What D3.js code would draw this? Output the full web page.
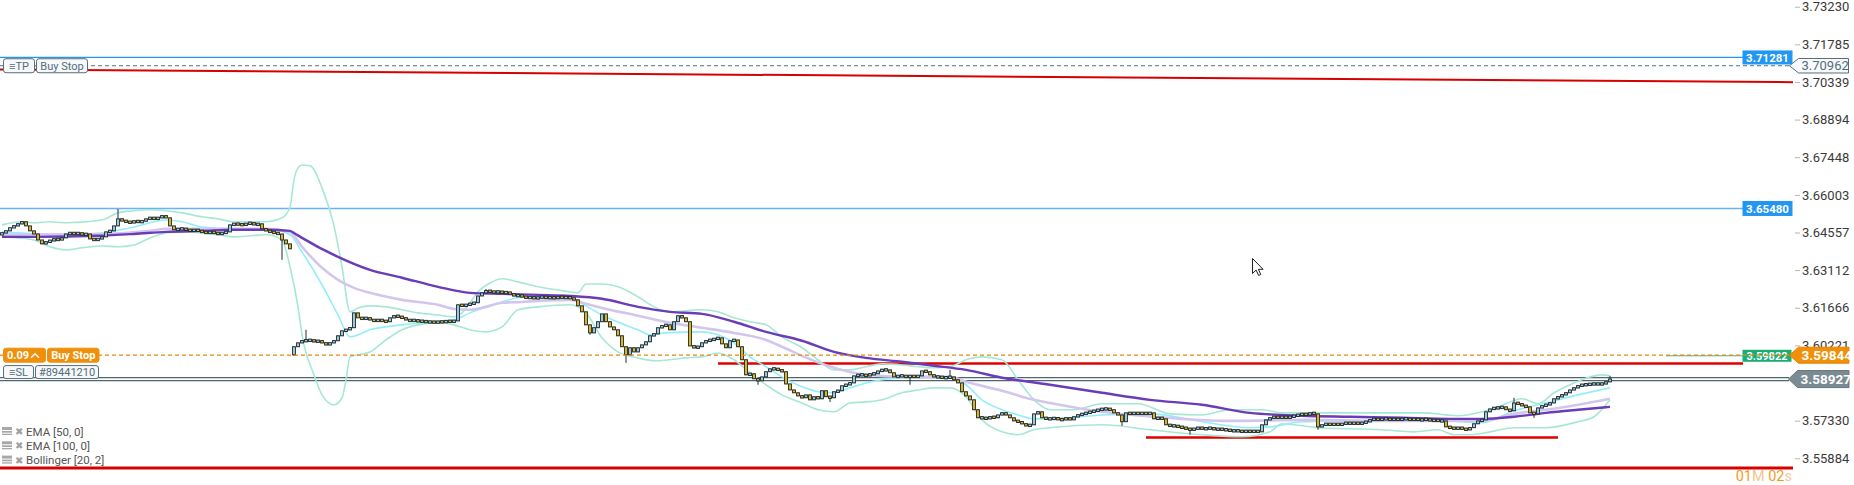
<!DOCTYPE html>
<html><head><meta charset="utf-8">
<script src="https://cdn.jsdelivr.net/npm/d3@7"></script>
<style>
html,body{margin:0;padding:0;background:#fff;overflow:hidden}
svg{display:block;font-family:Roboto,"Noto Sans",sans-serif}
</style></head><body>
<svg id="chart" width="1854" height="485"></svg>
<script>
// ---------------- DATA ----------------
// visible price-axis tick labels (the 3.58775 tick is hidden under the SL label in the original)
const yTickLabels = ["3.73230","3.71785","3.70339","3.68894","3.67448","3.66003","3.64557","3.63112","3.61666","3.60221","3.57330","3.55884"];

const firstOpen = 3.6447;
const closesBeforeGap = [
 3.6454,3.6462,3.6474,3.6481,3.6489,3.6497,3.6481,3.6462,3.6450,3.6427,
 3.6412,3.6420,3.6424,3.6431,3.6427,3.6435,3.6450,3.6454,3.6450,3.6454,
 3.6447,3.6450,3.6431,3.6427,3.6431,3.6439,3.6458,3.6462,3.6481,3.6508,
 3.6500,3.6497,3.6493,3.6500,3.6496,3.6499,3.6508,3.6512,3.6508,3.6512,
 3.6520,3.6512,3.6481,3.6466,3.6469,3.6470,3.6466,3.6462,3.6466,3.6462,
 3.6458,3.6454,3.6458,3.6454,3.6450,3.6454,3.6458,3.6485,3.6489,3.6487,
 3.6485,3.6489,3.6493,3.6485,3.6489,3.6470,3.6462,3.6458,3.6454,3.6450,
 3.6427,3.6412,3.6393];
const gapOpen = 3.5986;
const closesAfterGap = [
 3.6017,3.6032,3.6040,3.6040,3.6043,3.6036,3.6040,3.6032,3.6024,3.6032,
 3.6040,3.6059,3.6078,3.6082,3.6090,3.6147,3.6128,3.6124,3.6128,3.6120,
 3.6116,3.6120,3.6116,3.6113,3.6128,3.6136,3.6132,3.6128,3.6120,3.6116,
 3.6120,3.6113,3.6117,3.6110,3.6114,3.6109,3.6114,3.6111,3.6116,3.6113,
 3.6116,3.6178,3.6174,3.6178,3.6182,3.6186,3.6212,3.6224,3.6232,3.6228,
 3.6226,3.6229,3.6224,3.6226,3.6220,3.6212,3.6215,3.6209,3.6205,3.6207,
 3.6203,3.6206,3.6209,3.6204,3.6207,3.6203,3.6209,3.6205,3.6207,3.6204,
 3.6197,3.6174,3.6151,3.6101,3.6070,3.6090,3.6113,3.6143,3.6113,3.6093,
 3.6082,3.6059,3.6017,3.5986,3.6013,3.5997,3.6013,3.6024,3.6036,3.6059,
 3.6066,3.6090,3.6097,3.6101,3.6082,3.6113,3.6136,3.6128,3.6113,3.6020,
 3.6013,3.6017,3.6032,3.6040,3.6043,3.6047,3.6051,3.6028,3.6013,3.6040,
 3.6043,3.6017,3.5967,3.5909,3.5913,3.5894,3.5886,3.5901,3.5921,3.5932,
 3.5932,3.5928,3.5921,3.5874,3.5851,3.5840,3.5828,3.5821,3.5832,3.5813,
 3.5825,3.5817,3.5848,3.5825,3.5821,3.5844,3.5848,3.5867,3.5871,3.5878,
 3.5905,3.5909,3.5909,3.5905,3.5913,3.5913,3.5924,3.5928,3.5928,3.5917,
 3.5901,3.5905,3.5905,3.5901,3.5905,3.5901,3.5905,3.5924,3.5921,3.5909,
 3.5901,3.5901,3.5898,3.5898,3.5901,3.5890,3.5878,3.5844,3.5828,3.5813,
 3.5775,3.5744,3.5744,3.5740,3.5748,3.5744,3.5755,3.5763,3.5755,3.5744,
 3.5732,3.5729,3.5721,3.5713,3.5717,3.5759,3.5767,3.5744,3.5740,3.5740,
 3.5743,3.5738,3.5736,3.5744,3.5736,3.5748,3.5755,3.5759,3.5763,3.5767,
 3.5771,3.5775,3.5778,3.5778,3.5775,3.5763,3.5755,3.5729,3.5763,3.5759,
 3.5763,3.5759,3.5763,3.5759,3.5763,3.5740,3.5744,3.5740,3.5717,3.5713,
 3.5713,3.5709,3.5706,3.5702,3.5698,3.5702,3.5706,3.5702,3.5702,3.5706,
 3.5698,3.5702,3.5698,3.5698,3.5694,3.5694,3.5694,3.5690,3.5694,3.5690,
 3.5694,3.5690,3.5717,3.5736,3.5744,3.5748,3.5744,3.5748,3.5744,3.5748,
 3.5752,3.5755,3.5759,3.5755,3.5763,3.5759,3.5709,3.5717,3.5721,3.5717,
 3.5721,3.5717,3.5721,3.5725,3.5721,3.5725,3.5721,3.5725,3.5729,3.5736,
 3.5740,3.5736,3.5740,3.5740,3.5736,3.5740,3.5736,3.5740,3.5740,3.5736,
 3.5740,3.5736,3.5736,3.5740,3.5732,3.5736,3.5732,3.5732,3.5709,3.5706,
 3.5702,3.5706,3.5702,3.5698,3.5706,3.5721,3.5732,3.5736,3.5767,3.5778,
 3.5782,3.5782,3.5786,3.5775,3.5771,3.5801,3.5798,3.5790,3.5786,3.5763,
 3.5759,3.5782,3.5790,3.5794,3.5801,3.5817,3.5825,3.5832,3.5840,3.5851,
 3.5859,3.5867,3.5871,3.5871,3.5874,3.5874,3.5874,3.5874,3.5882,3.5893];

// sparse wick extremes [candle index, price]
const highWicks = [[29,3.6546],[76,3.6082],[121,3.6239],[237,3.5928],[378,3.5821],[402,3.5905]];
const lowWicks  = [[70,3.6351],[73,3.5982],[147,3.6063],[156,3.5955],[189,3.5871],[207,3.5805],[227,3.5871],[280,3.5713],[297,3.5679],[329,3.5698],[383,3.5744]];

// indicator values [candle index, price]
const ema100 = [[0,3.6439],[8,3.6439],[24,3.6443],[33,3.6450],[41,3.6458],[50,3.6462],[58,3.6466],[66,3.6466],[72,3.6462],[73,3.6454],[75,3.6435],[84,3.6362],[92,3.6312],[100,3.6282],[109,3.6247],[117,3.6224],[125,3.6220],[134,3.6216],[142,3.6212],[150,3.6201],[159,3.6170],[167,3.6151],[175,3.6143],[183,3.6113],[191,3.6074],[200,3.6040],[208,3.5997],[216,3.5974],[225,3.5959],[233,3.5944],[241,3.5928],[250,3.5898],[262,3.5871],[275,3.5840],[287,3.5813],[300,3.5794],[312,3.5763],[325,3.5752],[337,3.5748],[350,3.5744],[362,3.5740],[370,3.5740],[378,3.5748],[386,3.5763],[394,3.5775],[402,3.5786]];
const ema50 = [[0,3.6447],[25,3.6450],[37,3.6462],[41,3.6470],[50,3.6470],[66,3.6470],[72,3.6458],[75,3.6401],[80,3.6320],[84,3.6274],[88,3.6243],[92,3.6224],[100,3.6197],[109,3.6178],[113,3.6162],[117,3.6159],[121,3.6170],[125,3.6186],[130,3.6189],[134,3.6193],[142,3.6197],[146,3.6182],[150,3.6166],[159,3.6136],[167,3.6109],[175,3.6090],[183,3.6070],[191,3.6043],[195,3.6017],[200,3.5982],[208,3.5936],[216,3.5909],[225,3.5901],[237,3.5901],[241,3.5882],[250,3.5848],[258,3.5813],[262,3.5801],[275,3.5767],[288,3.5748],[307,3.5732],[326,3.5736],[345,3.5732],[361,3.5732],[370,3.5732],[378,3.5759],[386,3.5775],[394,3.5794],[402,3.5817]];
const bbMiddle = [[0,3.6458],[16,3.6447],[25,3.6454],[33,3.6477],[41,3.6504],[45,3.6497],[50,3.6477],[58,3.6470],[66,3.6470],[72,3.6447],[75,3.6381],[80,3.6255],[84,3.6139],[87,3.6055],[92,3.6082],[100,3.6101],[109,3.6113],[113,3.6120],[117,3.6147],[121,3.6170],[125,3.6189],[129,3.6205],[134,3.6209],[142,3.6205],[146,3.6174],[150,3.6139],[159,3.6082],[162,3.6063],[166,3.6070],[175,3.6074],[179,3.6063],[183,3.6032],[187,3.5978],[191,3.5940],[195,3.5901],[200,3.5863],[204,3.5844],[208,3.5840],[212,3.5859],[216,3.5878],[220,3.5890],[225,3.5898],[237,3.5901],[241,3.5871],[245,3.5813],[250,3.5775],[254,3.5755],[258,3.5740],[262,3.5740],[275,3.5755],[287,3.5759],[300,3.5729],[312,3.5706],[317,3.5709],[325,3.5729],[337,3.5732],[350,3.5736],[362,3.5732],[370,3.5725],[378,3.5771],[386,3.5801],[394,3.5832],[402,3.5859]];
const bbUpper = [[0,3.6485],[5,3.6497],[8,3.6493],[12,3.6497],[16,3.6493],[25,3.6504],[29,3.6531],[33,3.6539],[37,3.6543],[41,3.6539],[45,3.6531],[50,3.6516],[54,3.6508],[58,3.6497],[66,3.6497],[70,3.6512],[72,3.6554],[73,3.6658],[74,3.6704],[75,3.6715],[77,3.6712],[80,3.6627],[83,3.6481],[85,3.6324],[87,3.6151],[89,3.6166],[92,3.6174],[96,3.6170],[100,3.6159],[104,3.6147],[109,3.6139],[113,3.6132],[115,3.6147],[117,3.6186],[119,3.6228],[122,3.6262],[125,3.6278],[129,3.6266],[134,3.6247],[142,3.6228],[144,3.6224],[146,3.6258],[150,3.6258],[154,3.6247],[159,3.6209],[163,3.6170],[167,3.6151],[175,3.6159],[179,3.6151],[183,3.6128],[187,3.6113],[191,3.6101],[195,3.6055],[200,3.6013],[204,3.5967],[208,3.5928],[212,3.5928],[216,3.5940],[220,3.5951],[225,3.5947],[229,3.5940],[233,3.5936],[237,3.5940],[241,3.5967],[245,3.5978],[250,3.5967],[254,3.5890],[258,3.5813],[262,3.5775],[268,3.5775],[275,3.5798],[284,3.5798],[292,3.5759],[300,3.5755],[307,3.5775],[315,3.5775],[320,3.5763],[337,3.5763],[355,3.5763],[364,3.5752],[370,3.5767],[374,3.5786],[380,3.5817],[384,3.5798],[388,3.5840],[393,3.5878],[397,3.5901],[400,3.5909],[402,3.5905]];
const bbLower = [[0,3.6439],[4,3.6435],[8,3.6427],[12,3.6401],[16,3.6389],[20,3.6397],[25,3.6404],[29,3.6401],[33,3.6408],[37,3.6435],[41,3.6454],[45,3.6458],[50,3.6454],[54,3.6447],[58,3.6439],[62,3.6443],[66,3.6447],[70,3.6427],[72,3.6324],[74,3.6170],[75,3.6063],[78,3.5909],[80,3.5832],[83,3.5794],[85,3.5821],[86,3.5890],[87,3.5978],[89,3.5986],[92,3.5997],[96,3.6043],[100,3.6082],[104,3.6101],[109,3.6109],[113,3.6101],[117,3.6082],[121,3.6074],[125,3.6093],[129,3.6159],[134,3.6170],[142,3.6178],[146,3.6147],[150,3.6051],[154,3.5997],[159,3.5974],[163,3.5963],[167,3.5967],[171,3.5974],[175,3.5978],[179,3.5993],[183,3.5967],[187,3.5917],[191,3.5871],[195,3.5832],[200,3.5801],[204,3.5775],[208,3.5767],[212,3.5801],[216,3.5805],[220,3.5813],[225,3.5840],[229,3.5851],[233,3.5859],[237,3.5859],[241,3.5825],[245,3.5736],[250,3.5690],[254,3.5679],[258,3.5698],[262,3.5706],[275,3.5717],[287,3.5698],[300,3.5679],[310,3.5671],[317,3.5690],[320,3.5721],[329,3.5706],[337,3.5702],[345,3.5698],[353,3.5690],[359,3.5698],[363,3.5679],[367,3.5679],[372,3.5690],[378,3.5706],[386,3.5706],[394,3.5729],[398,3.5748],[402,3.5813]];

// price levels
const tpLevel = 3.71281;
const tpOrderLevel = 3.70962;
const trendLine = [3.7082, 3.7033];
const alertLevel = 3.65480;
const entryLevel = 3.59844;
const bidLevel = 3.59822;
const redLevel = 3.5953, redLevelStart = 179;
const slLevel = 3.58927;
const supportLevel = 3.5668, supportRange = [286, 389];
const bottomLevel = 3.5551;
const legendItems = ["EMA [50, 0]", "EMA [100, 0]", "Bollinger [20, 2]"];

// ---------------- CHART ----------------
const svg = d3.select('#chart');
const paneRight = 1793;
const closes = closesBeforeGap.concat(closesAfterGap);
const n = closes.length;
const candles = closes.map((c, i) => {
  const o = i === 0 ? firstOpen : (i === closesBeforeGap.length ? gapOpen : closes[i - 1]);
  return {i, o, c, h: Math.max(o, c), l: Math.min(o, c)};
});
highWicks.forEach(([i, v]) => candles[i].h = Math.max(candles[i].h, v));
lowWicks.forEach(([i, v]) => candles[i].l = Math.min(candles[i].l, v));

const x = d3.scaleLinear().domain([0, n - 1]).range([2, 1610]);
const y = d3.scaleLinear().domain([3.55884, 3.73230]).range([458.3, 6.7]);

const lines = svg.append('g');
function hline(price, x0, x1, color, w, dash) {
  lines.append('line').attr('x1', x0).attr('x2', x1).attr('y1', y(price)).attr('y2', y(price))
    .attr('stroke', color).attr('stroke-width', w).attr('stroke-dasharray', dash || null);
}
hline(bottomLevel, 0, paneRight, '#d50000', 3);
lines.append('line').attr('x1', 0).attr('x2', paneRight).attr('y1', y(trendLine[0])).attr('y2', y(trendLine[1]))
  .attr('stroke', '#d50000').attr('stroke-width', 2);
hline(tpLevel, 0, 1743, '#2196f3', 1.2);
hline(tpOrderLevel, 0, 1789, '#546e7a', 1, '4,3');
hline(alertLevel, 0, 1743, '#64b5f6', 1.5);
hline(redLevel, x(redLevelStart), 1743, '#e00000', 2.5);
hline(supportLevel, x(supportRange[0]), x(supportRange[1]), '#e00000', 2.5);
lines.append('line').attr('x1', 0).attr('x2', 1789).attr('y1', y(slLevel) - 1.5).attr('y2', y(slLevel) - 1.5).attr('stroke', '#4f6570').attr('stroke-width', 1.1);
lines.append('line').attr('x1', 0).attr('x2', 1789).attr('y1', y(slLevel) + 1.5).attr('y2', y(slLevel) + 1.5).attr('stroke', '#4f6570').attr('stroke-width', 1.1);

// indicators
const lineGen = d3.line().x(d => x(d[0])).y(d => y(d[1])).curve(d3.curveMonotoneX);
const ind = svg.append('g').attr('fill', 'none');
ind.append('path').attr('d', lineGen(bbUpper)).attr('stroke', '#a6e8d4').attr('stroke-width', 1.6);
ind.append('path').attr('d', lineGen(bbLower)).attr('stroke', '#a6e8d4').attr('stroke-width', 1.6);
ind.append('path').attr('d', lineGen(bbMiddle)).attr('stroke', '#93eef8').attr('stroke-width', 1.6);
ind.append('path').attr('d', lineGen(ema50)).attr('stroke', '#d3c6ec').attr('stroke-width', 2.6);
ind.append('path').attr('d', lineGen(ema100)).attr('stroke', '#6a3cb8').attr('stroke-width', 2.4);

// candles
const cg = svg.append('g');
cg.selectAll('line').data(candles).join('line')
  .attr('x1', d => x(d.i)).attr('x2', d => x(d.i))
  .attr('y1', d => y(d.h)).attr('y2', d => y(d.l))
  .attr('stroke', '#1f2a30').attr('stroke-width', 1);
cg.selectAll('rect').data(candles).join('rect')
  .attr('x', d => x(d.i) - 1.4).attr('width', 2.8)
  .attr('y', d => { const t = y(Math.max(d.o, d.c)), b = y(Math.min(d.o, d.c)); return b - t < 2.4 ? (t + b) / 2 - 1.2 : t; })
  .attr('height', d => Math.max(2.4, y(Math.min(d.o, d.c)) - y(Math.max(d.o, d.c))))
  .attr('fill', d => d.c >= d.o ? '#a9dcef' : '#f7c21a')
  .attr('stroke', '#1f2a30').attr('stroke-width', 1);

// axis
const axisG = svg.append('g').attr('transform', 'translate(1795,0)')
  .call(d3.axisRight(y).tickValues(yTickLabels.map(Number)).tickFormat((d, i) => yTickLabels[i]).tickSize(5).tickPadding(2));
axisG.select('.domain').remove();
axisG.attr('font-size', 13).attr('font-family', 'Roboto');
axisG.selectAll('line').attr('stroke', '#b5b5b5');
axisG.selectAll('text').attr('fill', '#3a3a3a');

// right-side labels
const lab = svg.append('g');
function rectLabel(price, x0, x1, h, fill, text, tcolor, fs, weight) {
  const cy = y(price);
  lab.append('rect').attr('x', x0).attr('y', cy - h / 2).attr('width', x1 - x0).attr('height', h).attr('fill', fill);
  lab.append('text').attr('x', (x0 + x1) / 2).attr('y', cy).attr('dy', '0.36em').attr('text-anchor', 'middle')
    .attr('fill', tcolor).attr('font-size', fs).attr('font-weight', weight).text(text);
}
function arrowLabel(price, x0, x1, h, fill, stroke, text, tcolor, fs, weight) {
  const cy = y(price), t = cy - h / 2, b = cy + h / 2;
  lab.append('path').attr('d', `M${x0},${cy}L${x0 + 9},${t}L${x1},${t}L${x1},${b}L${x0 + 9},${b}Z`)
    .attr('fill', fill).attr('stroke', stroke).attr('stroke-width', 1);
  lab.append('text').attr('x', x0 + 12).attr('y', cy).attr('dy', '0.36em')
    .attr('fill', tcolor).attr('font-size', fs).attr('font-weight', weight).text(text);
}
rectLabel(tpLevel, 1742.5, 1792.5, 14, '#2196f3', tpLevel.toFixed(5), '#fff', 11.5, 'bold');
arrowLabel(tpOrderLevel, 1789.5, 1848.5, 14.5, '#f8f9fa', '#546e7a', tpOrderLevel.toFixed(5), '#546e7a', 13, 'normal');
rectLabel(alertLevel, 1742.5, 1792.5, 15, '#2196f3', alertLevel.toFixed(5), '#fff', 11.5, 'bold');
lab.append('line').attr('x1', x(416)).attr('x2', 1743).attr('y1', y(bidLevel)).attr('y2', y(bidLevel)).attr('stroke', '#3fb89a').attr('stroke-width', 1);
rectLabel(bidLevel, 1742.5, 1791.5, 12, '#1aae74', bidLevel.toFixed(5), '#fff', 11, 'bold');
lab.append('line').attr('x1', 0).attr('x2', 1790).attr('y1', y(entryLevel)).attr('y2', y(entryLevel))
  .attr('stroke', '#e8870a').attr('stroke-width', 1.2).attr('stroke-dasharray', '4,3');
arrowLabel(entryLevel, 1789.5, 1849, 16, '#f0900a', '#e38400', entryLevel.toFixed(5), '#fff', 13.5, 'bold');
arrowLabel(slLevel, 1788.5, 1849, 17, '#7b8b93', '#66767e', slLevel.toFixed(5), '#fff', 13.5, 'bold');

// left order labels
function boxLabel(x0, x1, top, h, fill, stroke, text, tcolor, weight) {
  lab.append('rect').attr('x', x0).attr('y', top).attr('width', x1 - x0).attr('height', h).attr('rx', 2.5)
    .attr('fill', fill).attr('stroke', stroke).attr('stroke-width', 1);
  if (text) lab.append('text').attr('x', (x0 + x1) / 2).attr('y', top + h / 2).attr('dy', '0.36em').attr('text-anchor', 'middle')
    .attr('fill', tcolor).attr('font-size', 11).attr('font-weight', weight).text(text);
}
const tpY = y(tpOrderLevel);
boxLabel(3.5, 34.5, tpY - 7, 14, '#f6f8f9', '#546e7a', '≡TP', '#546e7a', 'normal');
boxLabel(36.5, 87.5, tpY - 7, 14, '#f6f8f9', '#546e7a', 'Buy Stop', '#546e7a', 'normal');
const enY = y(entryLevel);
boxLabel(3.5, 45.5, enY - 7, 14, '#f0900a', '#f0900a', '', '#fff', 'bold');
lab.append('text').attr('x', 7).attr('y', enY).attr('dy', '0.36em').attr('fill', '#fff').attr('font-size', 11).attr('font-weight', 'bold').text('0.09');
lab.append('path').attr('d', `M31,${enY + 2.5}L35,${enY - 1.5}L39,${enY + 2.5}`).attr('fill', 'none').attr('stroke', '#fff').attr('stroke-width', 1.5);
boxLabel(47.5, 99, enY - 7, 14, '#f0900a', '#f0900a', 'Buy Stop', '#fff', 'bold');
const slY = y(slLevel);
boxLabel(3.5, 33.5, slY - 13.5, 13, '#f6f8f9', '#546e7a', '≡SL', '#546e7a', 'normal');
boxLabel(35.5, 98.5, slY - 13.5, 13, '#f6f8f9', '#546e7a', '#89441210', '#546e7a', 'normal');

// legend
const lg = svg.append('g');
legendItems.forEach((t, k) => {
  const cy = 431.5 + k * 14.3;
  lg.append('rect').attr('x', 2).attr('y', cy - 4.5).attr('width', 10).attr('height', 8).attr('fill', '#a8a8a8');
  lg.append('rect').attr('x', 2).attr('y', cy - 1.5).attr('width', 10).attr('height', 1).attr('fill', '#fff');
  lg.append('rect').attr('x', 2).attr('y', cy + 1.2).attr('width', 10).attr('height', 1).attr('fill', '#fff');
  lg.append('text').attr('x', 15).attr('y', cy).attr('dy', '0.36em').attr('fill', '#a0a0a0').attr('font-size', 10)
    .attr('font-family', 'DejaVu Sans').text('✖');
  lg.append('text').attr('x', 26).attr('y', cy).attr('dy', '0.36em').attr('fill', '#555').attr('font-size', 11.5).text(t);
});

// countdown
const cd = svg.append('text').attr('x', 1792).attr('y', 481).attr('text-anchor', 'end').attr('font-size', 14.5);
[['01', '#f59a23'], ['M ', '#f7c48c'], ['02', '#f59a23'], ['s', '#f0c8a0']].forEach(([t, c]) => cd.append('tspan').attr('fill', c).text(t));

// mouse cursor
svg.append('path').attr('transform', 'translate(1252.5,258.5)')
  .attr('d', 'M0,0L0,15L3.6,11.6L6.1,17L8.3,16L5.9,10.8L10.6,10.8Z')
  .attr('fill', '#fff').attr('stroke', '#222').attr('stroke-width', 1).attr('stroke-linejoin', 'round');
</script>
</body></html>
